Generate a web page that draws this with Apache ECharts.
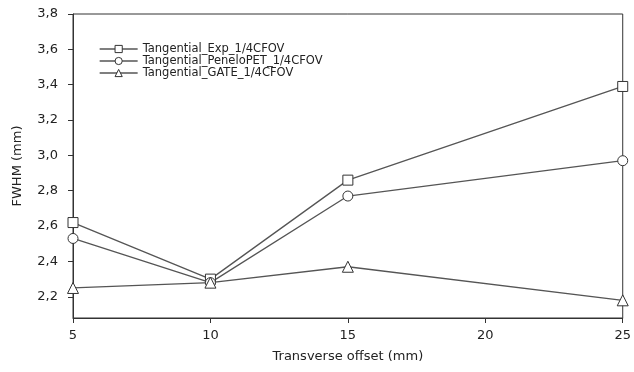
<!DOCTYPE html>
<html>
<head>
<meta charset="utf-8">
<script src="https://cdn.jsdelivr.net/npm/echarts@6/dist/echarts.min.js"></script>
<style>
  html, body { margin: 0; padding: 0; background: #fff; }
  #chart { width: 634px; height: 372px; }
</style>
</head>
<body>
<div id="chart"></div>
<script>
// data
var offsets = [5, 10, 15, 25];
var expVals = [2.62, 2.30, 2.86, 3.39];
var peneloVals = [2.53, 2.28, 2.77, 2.97];
var gateVals = [2.25, 2.28, 2.37, 2.18];
var yTicks = [2.2, 2.4, 2.6, 2.8, 3.0, 3.2, 3.4, 3.6, 3.8];
var xTicks = [5, 10, 15, 20, 25];
var names = ['Tangential_Exp_1/4CFOV', 'Tangential_PeneloPET_1/4CFOV', 'Tangential_GATE_1/4CFOV'];

function pairs(vals) {
    var out = [];
    for (var i = 0; i < offsets.length; i++) out.push([offsets[i], vals[i]]);
    return out;
}

function mkSeries(name, vals, symbol) {
    return {
        name: name,
        type: 'line',
        data: pairs(vals),
        symbol: symbol,
        symbolSize: symbol === 'triangle' ? 11 : 10,
        showAllSymbol: true,
        lineStyle: { color: '#555', width: 1.3 },
        itemStyle: { color: '#fff', borderColor: '#333', borderWidth: 1 },
        emphasis: { disabled: true },
        animation: false
    };
}

var chart = echarts.init(document.getElementById('chart'));
var option = {
    animation: false,
    textStyle: { fontFamily: 'DejaVu Sans, sans-serif' },
    grid: {
        left: 73, right: 11, top: 14, bottom: 54,
        show: true, borderColor: '#333', borderWidth: 1, backgroundColor: 'transparent'
    },
    legend: {
        orient: 'vertical',
        left: 94, top: 38,
        itemWidth: 38, itemHeight: 9, itemGap: 0,
        itemStyle: { borderWidth: 1 },
        lineStyle: { width: 1.3 },
        textStyle: { fontSize: 11.5, lineHeight: 12, color: '#222' },
        data: names
    },
    xAxis: {
        type: 'value',
        min: 5, max: 25,
        name: 'Transverse offset (mm)',
        nameLocation: 'middle', nameGap: 32,
        nameTextStyle: { fontSize: 13, color: '#222' },
        axisLine: { lineStyle: { color: '#333', width: 1 } },
        axisTick: { show: true, length: 5, lineStyle: { color: '#333' }, customValues: xTicks },
        axisLabel: { fontSize: 13, color: '#222', margin: 11, customValues: xTicks },
        splitLine: { show: false }
    },
    yAxis: {
        type: 'value',
        min: 2.08, max: 3.8,
        name: 'FWHM (mm)',
        nameLocation: 'middle', nameGap: 49, nameRotate: 90,
        nameTextStyle: { fontSize: 13, color: '#222' },
        axisLine: { show: true, lineStyle: { color: '#333', width: 1 } },
        axisTick: { show: true, length: 5, lineStyle: { color: '#333' }, customValues: yTicks },
        axisLabel: {
            fontSize: 13, color: '#222', margin: 15, customValues: yTicks,
            formatter: function (v) { return v.toFixed(1).replace('.', ','); }
        },
        splitLine: { show: false }
    },
    series: [
        mkSeries(names[0], expVals, 'rect'),
        mkSeries(names[1], peneloVals, 'circle'),
        mkSeries(names[2], gateVals, 'triangle')
    ]
};
chart.setOption(option);
</script>
</body>
</html>
